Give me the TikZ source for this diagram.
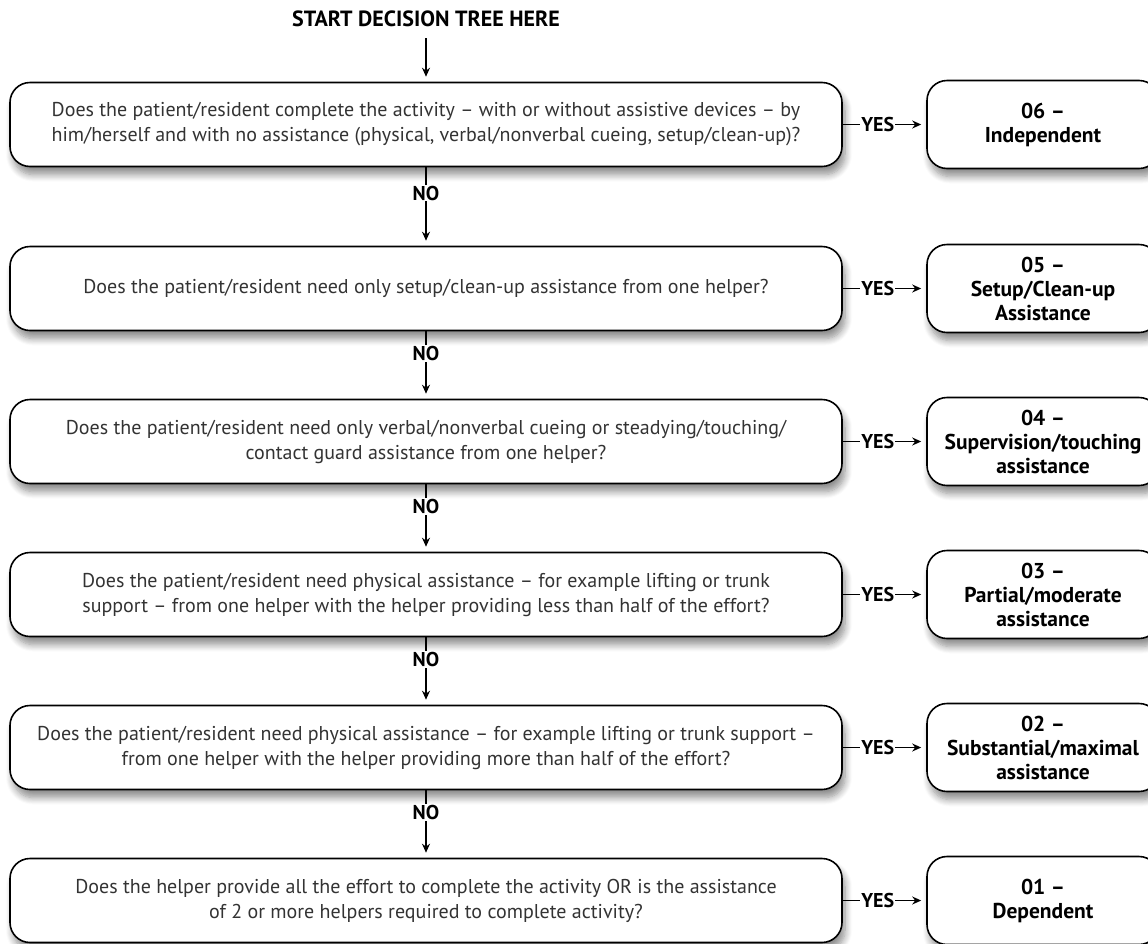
\documentclass[tikz,border=0pt]{standalone}
\usepackage{fontspec}
\setmainfont{PT Sans}
\usetikzlibrary{arrows,arrows.meta,shadows.blur}

\begin{document}
\begin{tikzpicture}[x=1pt,y=-1pt,>={Stealth[length=9pt,width=8pt]},shorten >=5pt,node distance=153,
  question node/.style={rectangle,rounded corners=20,draw,line width=1.6pt,fill=white,
    minimum width=832,minimum height=84,align=center,text=black!80,
    font=\fontsize{20}{25}\selectfont,
    blur shadow={shadow xshift=3pt,shadow yshift=-8pt,shadow blur radius=7pt,shadow blur steps=8,shadow opacity=45}},
  answer node/.style={question node,minimum width=232,minimum height=88,text=black,
    font=\bfseries\fontsize{21.5}{24}\selectfont},
  label node/.style={fill=white,inner sep=1pt,font=\bfseries\fontsize{20}{20}\selectfont},
  title node/.style={font=\bfseries\fontsize{22}{22}\selectfont}]
  \useasboundingbox (0,0) rectangle (1148,943);

  \node[question node] (q1) at (426,124.5) {Does the patient/resident complete the activity – with or without assistive devices – by\\him/herself and with no assistance (physical, verbal/nonverbal cueing, setup/clean-up)?};
  \node[question node] (q2) [below of=q1, node distance=164] {Does the patient/resident need only setup/clean-up assistance from one helper?};
  \node[question node] (q3) [below of=q2] {Does the patient/resident need only verbal/nonverbal cueing or steadying/touching/\\contact guard assistance from one helper?};
  \node[question node] (q4) [below of=q3] {Does the patient/resident need physical assistance – for example lifting or trunk\\support – from one helper with the helper providing less than half of the effort?};
  \node[question node] (q5) [below of=q4] {Does the patient/resident need physical assistance – for example lifting or trunk support –\\from one helper with the helper providing more than half of the effort?};
  \node[question node] (q6) [below of=q5] {Does the helper provide all the effort to complete the activity OR is the assistance\\of 2 or more helpers required to complete activity?};
  \node[title node] (start) [above of=q1, node distance=106] {START DECISION TREE HERE};

  \node[answer node] (a6) [right of=q1, node distance=617] {06 –\\Independent};
  \node[answer node] (a5) [right of=q2, node distance=617] {05 –\\Setup/Clean-up\\Assistance};
  \node[answer node] (a4) [right of=q3, node distance=617] {04 –\\Supervision/touching\\assistance};
  \node[answer node] (a3) [right of=q4, node distance=617] {03 –\\Partial/moderate\\assistance};
  \node[answer node] (a2) [right of=q5, node distance=617] {02 –\\Substantial/maximal\\assistance};
  \node[answer node] (a1) [right of=q6, node distance=617] {01 –\\Dependent};

  \path[->,line width=1.4pt]
    (start) edge[shorten <=8pt] (q1)
    (q1) edge node[label node,pos=0.33] {NO} (q2)
         edge node[label node,pos=0.42] {YES} (a6)
    (q2) edge node[label node,pos=0.33] {NO} (q3)
         edge node[label node,pos=0.42] {YES} (a5)
    (q3) edge node[label node,pos=0.33] {NO} (q4)
         edge node[label node,pos=0.42] {YES} (a4)
    (q4) edge node[label node,pos=0.33] {NO} (q5)
         edge node[label node,pos=0.42] {YES} (a3)
    (q5) edge node[label node,pos=0.33] {NO} (q6)
         edge node[label node,pos=0.42] {YES} (a2)
    (q6) edge node[label node,pos=0.42] {YES} (a1);
\end{tikzpicture}
\end{document}
